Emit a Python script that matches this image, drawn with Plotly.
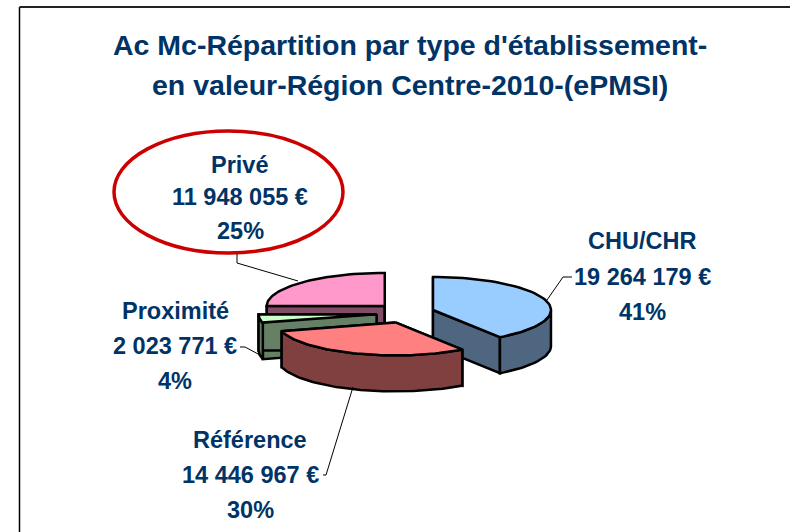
import numpy as np
import plotly.graph_objects as go

# ---- data -------------------------------------------------------------
categories = ["CHU/CHR", "Référence", "Proximité", "Privé"]
values = [19264179, 14446967, 2023771, 11948055]
value_labels = ["19 264 179 €", "14 446 967 €", "2 023 771 €", "11 948 055 €"]
percent_labels = ["41%", "30%", "4%", "25%"]

top_colors = ["#99CCFF", "#FF8080", "#CCFFCC", "#FF99CC"]
wall_colors = ["#4F6680", "#804040", "#668066", "#804C66"]
draw_order = [3, 0, 2, 1]  # back to front

# ---- layout of the tilted pie (window pixels) ---------------------------
W, H = 790, 532
CX, CY = 405.3, 313.0
RX, RY = 118.0, 33.0
PULL_X, PULL_Y = 29.0, 10.0
DEPTH = 36.0
TEXT = "#003366"
LABEL_X = [642, 250, 175, 240]
LABEL_Y = [(241, 277, 312), (440, 475, 510), (311, 346, 381), (165, 197, 231)]
LEADERS = [
    [(547, 300), (563, 277), (572, 277)],
    [(353, 387), (326, 475), (323, 475)],
    [(260, 355), (245, 347), (240, 347)],
    [(237, 254), (237, 263), (298, 281)],
]

fractions = np.array(values, dtype=float) / sum(values)
edges = np.concatenate([[0.0], np.cumsum(fractions)]) * 2 * np.pi


def polygon(xs, ys, fill, name):
    return go.Scatter(
        x=xs, y=ys, mode="lines", fill="toself", fillcolor=fill, name=name,
        line=dict(color="black", width=2.5), hoverinfo="name", showlegend=False,
    )


fig = go.Figure()
for i in draw_order:
    a0, a1 = edges[i], edges[i + 1]
    mid = (a0 + a1) / 2
    cx = CX + PULL_X * np.sin(mid)
    cy = CY - PULL_Y * np.cos(mid)
    t = np.linspace(a0, a1, 60)
    ax = cx + RX * np.sin(t)
    ay = cy - RY * np.cos(t)
    name = categories[i]
    # radial walls facing the viewer, then the outer rim, then the top face
    for a in (a0, a1):
        ex, ey = cx + RX * np.sin(a), cy - RY * np.cos(a)
        fig.add_trace(polygon(
            [cx, ex, ex, cx, cx], [cy, ey, ey + DEPTH, cy + DEPTH, cy],
            wall_colors[i], name))
    front = np.cos(t) <= 0.0
    if front.any():
        fx, fy = ax[front], ay[front]
        fig.add_trace(polygon(
            np.concatenate([fx, fx[::-1], fx[:1]]),
            np.concatenate([fy, fy[::-1] + DEPTH, fy[:1]]),
            wall_colors[i], name))
    fig.add_trace(polygon(
        np.concatenate([[cx], ax, [cx]]), np.concatenate([[cy], ay, [cy]]),
        top_colors[i], name))

annotations = [
    dict(x=410, y=45, text="Ac Mc-Répartition par type d'établissement-"),
    dict(x=410, y=85, text="en valeur-Région Centre-2010-(ePMSI)"),
]
for a in annotations:
    a["font"] = dict(size=28.5, color=TEXT, family="Liberation Sans", weight="bold")
for i, name in enumerate(categories):
    for line, y in zip((name, value_labels[i], percent_labels[i]), LABEL_Y[i]):
        annotations.append(dict(
            x=LABEL_X[i], y=y, text=line,
            font=dict(size=23.5, color=TEXT, family="Liberation Sans", weight="bold")))
for a in annotations:
    a.update(xref="x", yref="y", showarrow=False, xanchor="center", yanchor="middle")

shapes = [
    dict(type="line", xref="x", yref="y", x0=19.5, x1=19.5, y0=7, y1=H,
         line=dict(color="black", width=1.5)),
    dict(type="line", xref="x", yref="y", x0=19.5, x1=W, y0=7, y1=7,
         line=dict(color="#222222", width=2)),
    dict(type="circle", xref="x", yref="y", x0=114, x1=343, y0=131, y1=253,
         line=dict(color="#CC0000", width=3.5), fillcolor="rgba(0,0,0,0)"),
]
for pts in LEADERS:
    for (x0, y0), (x1, y1) in zip(pts[:-1], pts[1:]):
        shapes.append(dict(type="line", xref="x", yref="y", x0=x0, y0=y0, x1=x1, y1=y1,
                           line=dict(color="black", width=1)))

fig.update_layout(
    width=W, height=H,
    margin=dict(l=0, r=0, t=0, b=0),
    paper_bgcolor="white", plot_bgcolor="white",
    xaxis=dict(range=[0, W], visible=False, fixedrange=True),
    yaxis=dict(range=[H, 0], visible=False, fixedrange=True),
    annotations=annotations, shapes=shapes,
)
fig.write_html(
    "out.html",
    config=dict(displayModeBar=False),
    post_script="document.body.style.margin='0';document.body.style.overflow='hidden';",
)
